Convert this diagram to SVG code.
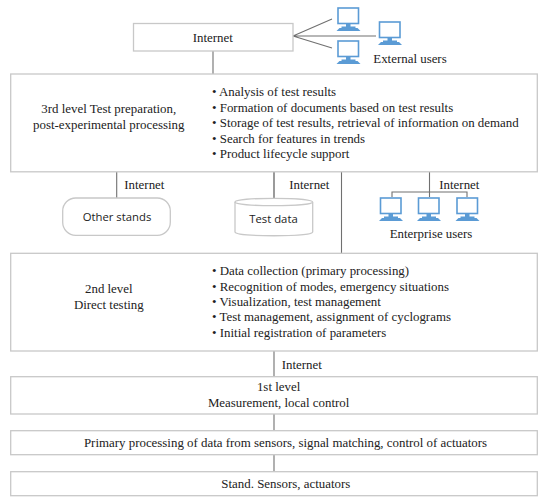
<svg xmlns="http://www.w3.org/2000/svg" width="550" height="503" viewBox="0 0 550 503">
<style>
.b{fill:#fff;stroke:#c8c8c8;stroke-width:1.3}
.l{fill:none;stroke:#707070;stroke-width:1.1}
text{font-family:"Liberation Serif",serif;font-size:12.9px;fill:#222}
.m{text-anchor:middle}
.s{font-family:"Open Sans","DejaVu Sans",sans-serif;font-size:11.3px;text-anchor:middle}
.scr{fill:#fff;stroke:#5b9bd5;stroke-width:1.6}
.bl{fill:#5b9bd5}
</style>
<defs>
<g id="pc">
<rect class="scr" x="1.500" y="1" width="20.500" height="15.500"/>
<rect class="bl" x="9.500" y="17" width="4.500" height="3"/>
<rect class="bl" x="5" y="19.500" width="14" height="1.500"/>
<path class="bl" d="M3 21H21L24 24H0Z"/>
</g>
</defs>
<rect width="550" height="503" fill="#fff"/>
<g id="connectors">
<path class="l" d="M213 51V74"/>
<path class="l" d="M293 36L332 19M293 36H376M293 36L332 48"/>
<path class="l" d="M116.700 172V198"/>
<path class="l" d="M274 172V199" style="stroke-width:1.4"/>
<path class="l" d="M341.500 172V253"/>
<path class="l" d="M429.500 172V197M392 197V192H467V197"/>
<path class="l" d="M274 351V377"/>
<path class="l" d="M274 414V431"/>
<path class="l" d="M274 455V472"/>
</g>
<g id="internet"><rect class="b" x="133.500" y="23.500" width="159.500" height="27.500"/><text class="m" x="212.700" y="41.500">Internet</text></g>
<g id="external-users">
<use href="#pc" x="336.500" y="7"/><use href="#pc" x="378" y="21"/><use href="#pc" x="336.500" y="40"/>
<text class="m" x="410" y="63">External users</text>
</g>
<g id="level3"><rect class="b" x="10.700" y="74" width="526.600" height="97.800"/>
<text class="m" x="108.800" y="113">3rd level Test preparation,</text>
<text class="m" x="108.800" y="129">post-experimental processing</text>
<text x="212" y="96">• Analysis of test results</text>
<text x="212" y="111.500">• Formation of documents based on test results</text>
<text x="212" y="127">• Storage of test results, retrieval of information on demand</text>
<text x="212" y="142.500">• Search for features in trends</text>
<text x="212" y="158">• Product lifecycle support</text>
</g>
<g id="other-stands"><rect class="b" x="62.700" y="198" width="107.600" height="37.300" rx="13"/><text class="s" x="117" y="221">Other stands</text></g>
<text x="124.300" y="189">Internet</text>
<g id="test-data"><path class="b" d="M235 202V232C235 237 312.700 237 312.700 232V202"/><ellipse class="b" cx="273.800" cy="202" rx="38.800" ry="3.700"/><text class="s" x="273.500" y="222.700">Test data</text></g>
<text x="289.300" y="188.500">Internet</text>
<g id="enterprise-users">
<use href="#pc" x="379" y="197"/><use href="#pc" x="417" y="197"/><use href="#pc" x="455.500" y="197"/>
<text class="m" x="431" y="237.500">Enterprise users</text>
</g>
<text x="439.300" y="188.500">Internet</text>
<g id="level2"><rect class="b" x="10.700" y="253.300" width="526.600" height="97.700"/>
<text class="m" x="108.800" y="292.700">2nd level</text>
<text class="m" x="108.800" y="308.700">Direct testing</text>
<text x="212" y="275">• Data collection (primary processing)</text>
<text x="212" y="290.700">• Recognition of modes, emergency situations</text>
<text x="212" y="306">• Visualization, test management</text>
<text x="212" y="321.300">• Test management, assignment of cyclograms</text>
<text x="212" y="336.700">• Initial registration of parameters</text>
</g>
<text x="281.700" y="368.500">Internet</text>
<g id="level1"><rect class="b" x="10.700" y="376.700" width="526.600" height="37.300"/>
<text class="m" x="278.600" y="390.700">1st level</text><text class="m" x="278.600" y="406.700">Measurement, local control</text></g>
<g id="primary"><rect class="b" x="10.700" y="430.700" width="526.600" height="24"/><text class="m" x="285.500" y="446.700">Primary processing of data from sensors, signal matching, control of actuators</text></g>
<g id="stand"><rect class="b" x="10.700" y="471.700" width="526.600" height="24"/><text class="m" x="285.800" y="487.700">Stand. Sensors, actuators</text></g>
</svg>
